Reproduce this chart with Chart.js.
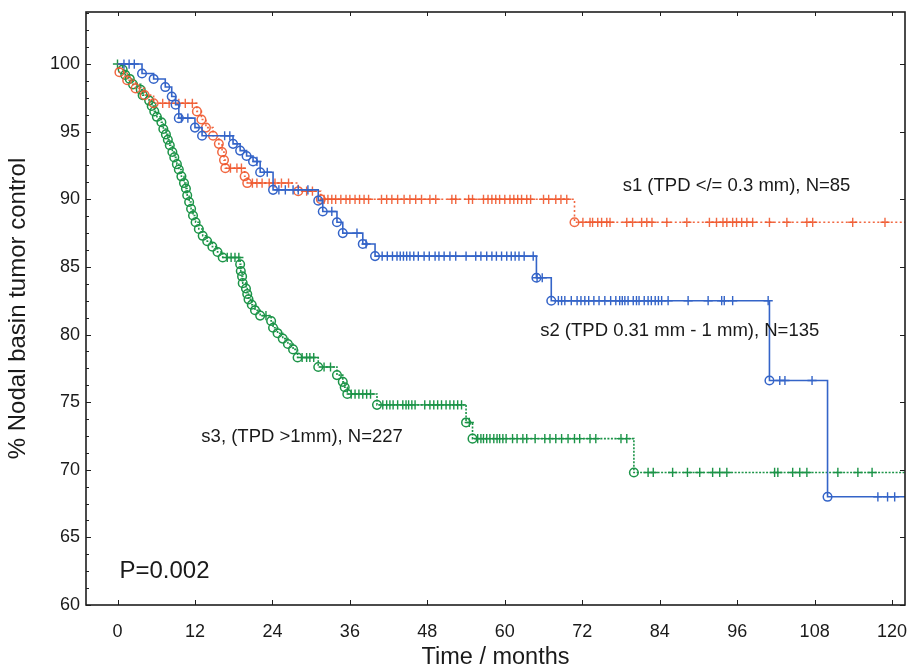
<!DOCTYPE html>
<html>
<head>
<meta charset="utf-8">
<script src="https://cdn.jsdelivr.net/npm/chart.js@4"></script>
<style>
  html, body { margin: 0; padding: 0; background: #fff; }
  #wrap { width: 908px; height: 670px; }
</style>
</head>
<body>
<div id="wrap"><canvas id="km"></canvas></div>
<script>
// axis ticks
const xTicks = [0, 12, 24, 36, 48, 60, 72, 84, 96, 108, 120];
const yTicks = [60, 65, 70, 75, 80, 85, 90, 95, 100];

// s1 (orange) - event times / survival after event, censored times
const s1EventT = [0.3, 1.5, 2.8, 4.2, 5.6, 12.3, 13.0, 13.7, 14.8, 15.7, 16.2, 16.5, 16.7, 19.7, 20.1, 28.0, 31.5, 70.8];
const s1EventS = [99.4, 98.8, 98.2, 97.7, 97.1, 96.5, 95.9, 95.3, 94.7, 94.1, 93.5, 92.9, 92.3, 91.7, 91.2, 90.6, 90.0, 88.3];
const s1CensorT = [7.0, 8.0, 9.5, 10.5, 11.6, 17.5, 18.5, 19.2, 20.9, 21.6, 22.4, 23.5, 24.4, 25.4, 26.5, 29.3, 30.2,
  32.0, 32.6, 33.2, 33.8, 34.6, 35.4, 36.0, 36.8, 37.5, 38.2, 38.9, 40.9, 41.7, 42.5, 43.4, 44.4, 45.3, 46.2, 47.1,
  48.4, 49.3, 51.8, 52.4, 54.4, 55.0, 56.7, 57.4, 58.0, 58.6, 59.2, 60.0, 60.8, 61.4, 62.0, 62.6, 63.4, 64.0, 66.0,
  66.8, 67.9, 68.7, 69.6,
  72.1, 73.2, 73.6, 74.4, 75.0, 75.8, 76.3, 78.9, 79.8, 81.2, 82.0, 82.8, 85.1, 88.2, 91.7, 92.8, 93.8, 94.4, 95.3,
  95.9, 96.7, 97.5, 98.4, 101.0, 103.7, 106.8, 107.7, 113.9, 118.9];

// s2 (blue)
const s2EventT = [3.8, 5.6, 7.4, 8.4, 9.0, 9.5, 12.0, 13.1, 17.9, 19.0, 20.0, 21.0, 22.1, 24.1, 31.1, 31.8, 34.0, 34.9, 38.0, 39.9, 64.9, 67.2, 101.0, 110.0];
const s2EventS = [99.3, 98.9, 98.3, 97.6, 97.0, 96.0, 95.3, 94.7, 94.1, 93.6, 93.2, 92.8, 92.0, 90.7, 89.9, 89.1, 88.3, 87.5, 86.7, 85.8, 84.2, 82.5, 76.6, 68.0];
const s2CensorT = [1.0, 1.8, 2.6, 9.9, 10.9, 16.6, 17.4, 21.6, 23.2, 25.0, 26.0, 27.2, 28.0, 29.5, 33.2, 37.1, 38.5,
  41.0, 41.8, 42.6, 43.3, 43.8, 44.3, 44.8, 45.3, 45.9, 46.6, 47.5, 48.3, 49.2, 49.8, 50.6, 51.5, 52.4, 54.0, 55.5,
  56.3, 57.2, 58.0, 58.7, 59.5, 60.3, 61.0, 61.6, 62.2, 63.0, 64.4, 65.0, 65.8,
  68.3, 68.8, 69.3, 70.3, 71.2, 71.8, 72.4, 73.0, 73.8, 74.6, 75.5, 76.4, 77.2, 77.8, 78.2, 78.6, 79.1, 79.9, 80.4,
  80.8, 81.6, 82.2, 82.7, 83.3, 83.8, 84.3, 85.3, 88.4, 91.5, 93.6, 94.0, 95.3, 100.8,
  102.6, 103.4, 107.6, 117.8, 119.3, 120.4];

// s3 (green)
const s3EventT = [0.8, 1.2, 1.9, 2.4, 3.6, 3.9, 4.9, 5.3, 5.7, 6.1, 6.8, 7.1, 7.5, 7.8, 8.1, 8.5, 8.8, 9.2, 9.5, 9.9,
  10.3, 10.6, 10.8, 11.1, 11.4, 11.7, 12.1, 12.6, 13.2, 13.9, 14.7, 15.5, 16.3,
  19.0, 19.1, 19.3, 19.4, 19.9, 20.1, 20.3, 20.8, 21.3, 22.1, 23.8, 24.1, 24.8, 25.6, 26.4, 27.2, 27.9,
  31.1, 34.0, 34.9, 35.2, 35.6, 40.2, 54.0, 55.0, 80.0];
const s3EventS = [99.6, 99.2, 98.9, 98.5, 98.1, 97.7, 97.3, 96.9, 96.5, 96.1, 95.7, 95.2, 94.8, 94.4, 94.0, 93.5, 93.1, 92.6, 92.2, 91.7,
  91.2, 90.8, 90.3, 89.8, 89.3, 88.8, 88.3, 87.8, 87.3, 86.9, 86.5, 86.1, 85.7,
  85.2, 84.7, 84.3, 83.8, 83.4, 83.0, 82.6, 82.2, 81.8, 81.4, 81.0, 80.5, 80.1, 79.7, 79.3, 78.9, 78.3,
  77.6, 77.0, 76.5, 76.1, 75.6, 74.8, 73.5, 72.3, 69.8];
const s3CensorT = [0.0, 17.0, 17.6, 18.2, 18.8, 23.0, 28.6, 29.3, 29.8, 30.4, 32.0, 33.0,
  36.2, 36.8, 37.4, 38.0, 38.6, 39.2,
  41.1, 41.7, 42.2, 42.7, 43.4, 44.2, 44.7, 45.1, 45.6, 46.1, 47.6, 48.4, 49.0, 49.6, 50.2, 50.9, 51.5, 52.1, 52.7, 53.3,
  54.5, 55.8, 56.3, 56.7, 57.2, 57.7, 58.3, 58.8, 59.2, 59.7, 60.2, 61.2, 61.9, 62.8, 63.4, 64.7, 66.2, 67.0, 67.9,
  68.8, 69.8, 70.8, 71.6, 73.2, 74.1, 78.0, 78.9,
  82.2, 83.0, 86.0, 88.3, 90.2, 92.2, 93.3, 94.4, 101.8, 102.3, 104.6, 105.7, 106.8, 111.6, 114.7, 116.9];

const seriesLabels = ['s1 (TPD </= 0.3 mm), N=85', 's2 (TPD 0.31 mm - 1 mm), N=135', 's3, (TPD >1mm), N=227'];
const pValueText = 'P=0.002';

const X_MIN = -4.88, X_MAX = 122, Y_MIN = 60, Y_MAX = 103.85;
const FONT = "'Liberation Sans', Arial, sans-serif";

function levelAt(times, vals, t) {
  let s = 100;
  for (let i = 0; i < times.length; i++) if (times[i] <= t) s = vals[i];
  return s;
}

function buildSeries(eventT, eventS, censorT, color, dash) {
  const steps = [{ x: 0, y: 100 }];
  eventT.forEach((t, i) => steps.push({ x: t, y: eventS[i] }));
  steps.push({ x: X_MAX, y: eventS[eventS.length - 1] });
  return [
    { data: steps, borderColor: color, borderWidth: 1.6, borderDash: dash, stepped: true, pointRadius: 0, fill: false },
    { data: eventT.map((t, i) => ({ x: t, y: eventS[i] })), showLine: false, pointStyle: 'circle',
      pointRadius: 4.3, pointBorderWidth: 1.5, pointBorderColor: color, pointBackgroundColor: 'rgba(255,255,255,0)' },
    { data: censorT.map(t => ({ x: t, y: levelAt(eventT, eventS, t) })), showLine: false, pointStyle: 'cross',
      pointRadius: 4.6, pointBorderWidth: 1.4, pointBorderColor: color }
  ];
}

const ORANGE = 'rgba(240,88,46,0.9)';
const BLUE = 'rgb(52,100,200)';
const GREEN = 'rgb(28,148,72)';

const datasets = [
  ...buildSeries(s2EventT, s2EventS, s2CensorT, BLUE, []),
  ...buildSeries(s1EventT, s1EventS, s1CensorT, ORANGE, [2, 2.5]),
  ...buildSeries(s3EventT, s3EventS, s3CensorT, GREEN, [2, 1.5])
];

const framePlugin = {
  id: 'frame',
  afterDatasetsDraw(chart) {
    const { ctx, chartArea: a, scales: { x, y } } = chart;
    ctx.save();
    ctx.strokeStyle = '#1e1e1e';
    ctx.lineWidth = 1.6;
    ctx.strokeRect(a.left, a.top, a.right - a.left, a.bottom - a.top);
    ctx.lineWidth = 1;
    ctx.beginPath();
    for (let v = Y_MIN; v <= Y_MAX; v += 1.25) {
      const py = Math.round(y.getPixelForValue(v)) + 0.5;
      const major = Math.abs(v % 5) < 0.01;
      ctx.moveTo(a.left, py); ctx.lineTo(a.left + (major ? 5 : 3), py);
      if (major) { ctx.moveTo(a.right, py); ctx.lineTo(a.right - 5, py); }
    }
    xTicks.forEach(t => {
      const px = Math.round(x.getPixelForValue(t)) + 0.5;
      ctx.moveTo(px, a.bottom); ctx.lineTo(px, a.bottom - 5);
      ctx.moveTo(px, a.top); ctx.lineTo(px, a.top + 4);
    });
    ctx.stroke();

    ctx.fillStyle = '#1a1a1a';
    ctx.font = '18.5px ' + FONT;
    ctx.textAlign = 'center';
    ctx.textBaseline = 'middle';
    ctx.fillText(seriesLabels[0], x.getPixelForValue(95.9), y.getPixelForValue(91.0));
    ctx.fillText(seriesLabels[1], x.getPixelForValue(87.1), y.getPixelForValue(80.3));
    ctx.fillText(seriesLabels[2], x.getPixelForValue(28.6), y.getPixelForValue(72.4));
    ctx.textAlign = 'left';
    ctx.font = '24px ' + FONT;
    ctx.fillText(pValueText, x.getPixelForValue(0.3), y.getPixelForValue(62.5));
    ctx.restore();
  }
};

new Chart(document.getElementById('km'), {
  type: 'line',
  data: { datasets },
  options: {
    responsive: true,
    maintainAspectRatio: false,
    animation: false,
    layout: { autoPadding: false, padding: { top: 12, right: 3, left: 0, bottom: 0 } },
    plugins: { legend: { display: false }, tooltip: { enabled: false } },
    scales: {
      x: {
        type: 'linear', min: X_MIN, max: X_MAX,
        afterBuildTicks: s => { s.ticks = xTicks.map(v => ({ value: v })); },
        afterFit: s => { s.height = 65; s.paddingLeft = 0; s.paddingRight = 0; },
        grid: { display: false, drawTicks: false },
        border: { display: false },
        ticks: { color: '#1a1a1a', font: { family: FONT, size: 18 }, padding: 16, maxRotation: 0 },
        title: { display: true, text: 'Time / months', color: '#1a1a1a', font: { family: FONT, size: 23.5 }, padding: { top: 0, bottom: -2 } }
      },
      y: {
        type: 'linear', min: Y_MIN, max: Y_MAX,
        afterBuildTicks: s => { s.ticks = yTicks.map(v => ({ value: v })); },
        afterFit: s => { s.width = 86; s.paddingTop = 0; s.paddingBottom = 0; },
        grid: { display: false, drawTicks: false },
        border: { display: false },
        ticks: { color: '#1a1a1a', font: { family: FONT, size: 18 }, padding: 6 },
        title: { display: true, text: '% Nodal basin tumor control', color: '#1a1a1a', font: { family: FONT, size: 24 }, padding: { top: 4, bottom: 0 } }
      }
    }
  },
  plugins: [framePlugin]
});
</script>
</body>
</html>
